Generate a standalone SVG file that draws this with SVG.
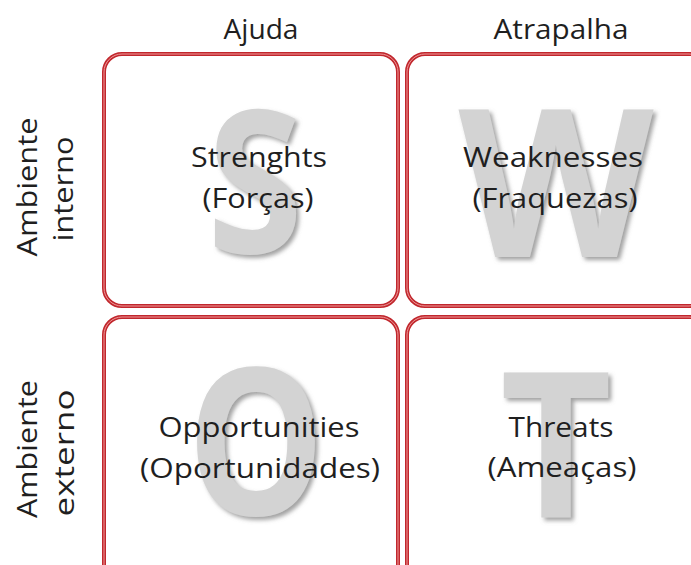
<svg xmlns="http://www.w3.org/2000/svg" width="691" height="565" viewBox="0 0 691 565">
<defs>
<style>
.bg{fill:#ffffff}
.box{fill:#ffffff;stroke:#c1272d;stroke-width:4}
.boxin{fill:none;stroke:#ef9a9a;stroke-width:1}
.big{font-family:"Open Sans","Liberation Sans",sans-serif;font-weight:700;fill:#d3d3d3;text-anchor:middle}
.lbl{font-family:"Open Sans","Liberation Sans",sans-serif;font-size:27px;font-weight:500;fill:#1f1f1f;text-anchor:middle}
.hdr{font-family:"Open Sans","Liberation Sans",sans-serif;font-size:27px;font-weight:500;fill:#1f1f1f;text-anchor:middle}
</style>
<filter id="sh" x="-20%" y="-20%" width="140%" height="140%">
<feDropShadow dx="3" dy="3" stdDeviation="2" flood-color="#8a8a8a" flood-opacity="0.8"/>
</filter>
</defs>
<rect class="bg" x="0" y="0" width="691" height="565"/>
<g id="headers">
<text class="hdr" x="261" y="39" textLength="75" lengthAdjust="spacingAndGlyphs">Ajuda</text>
<text class="hdr" x="561" y="39" textLength="135" lengthAdjust="spacingAndGlyphs">Atrapalha</text>
</g>
<g id="side-labels">
<text class="hdr" transform="translate(37,187) rotate(-90)" textLength="139" lengthAdjust="spacingAndGlyphs">Ambiente</text>
<text class="hdr" transform="translate(73,189) rotate(-90)" textLength="105" lengthAdjust="spacingAndGlyphs">interno</text>
<text class="hdr" transform="translate(37,449) rotate(-90)" textLength="138" lengthAdjust="spacingAndGlyphs">Ambiente</text>
<text class="hdr" transform="translate(74,453) rotate(-90)" textLength="127" lengthAdjust="spacingAndGlyphs">externo</text>
</g>
<g id="strengths">
<rect class="box" x="104" y="54" width="294" height="252" rx="18"/>
<rect class="boxin" x="104" y="54" width="294" height="252" rx="18"/>
<text class="big" x="255" y="253" font-size="200" textLength="96" lengthAdjust="spacingAndGlyphs" filter="url(#sh)">S</text>
<text class="lbl" x="259" y="167" textLength="136" lengthAdjust="spacingAndGlyphs">Strenghts</text>
<text class="lbl" x="258" y="208" textLength="111" lengthAdjust="spacingAndGlyphs">(Forças)</text>
</g>
<g id="weaknesses">
<rect class="box" x="407" y="54" width="300" height="252" rx="18"/>
<rect class="boxin" x="407" y="54" width="300" height="252" rx="18"/>
<text class="big" x="556" y="257" font-size="206" textLength="195" lengthAdjust="spacingAndGlyphs" filter="url(#sh)">W</text>
<text class="lbl" x="553" y="167" textLength="180" lengthAdjust="spacingAndGlyphs">Weaknesses</text>
<text class="lbl" x="555" y="208" textLength="165" lengthAdjust="spacingAndGlyphs">(Fraquezas)</text>
</g>
<g id="opportunities">
<rect class="box" x="104" y="317" width="294" height="270" rx="18"/>
<rect class="boxin" x="104" y="317" width="294" height="270" rx="18"/>
<text class="big" x="256" y="515" font-size="204" textLength="138" lengthAdjust="spacingAndGlyphs" filter="url(#sh)">O</text>
<text class="lbl" x="259" y="437" textLength="201" lengthAdjust="spacingAndGlyphs">Opportunities</text>
<text class="lbl" x="260" y="478" textLength="240" lengthAdjust="spacingAndGlyphs">(Oportunidades)</text>
</g>
<g id="threats">
<rect class="box" x="407" y="317" width="300" height="270" rx="18"/>
<rect class="boxin" x="407" y="317" width="300" height="270" rx="18"/>
<text class="big" x="556" y="517" font-size="203" textLength="112" lengthAdjust="spacingAndGlyphs" filter="url(#sh)">T</text>
<text class="lbl" x="561" y="437" textLength="105" lengthAdjust="spacingAndGlyphs">Threats</text>
<text class="lbl" x="562" y="477" textLength="149" lengthAdjust="spacingAndGlyphs">(Ameaças)</text>
</g>
<g id="connectors"></g>
</svg>
